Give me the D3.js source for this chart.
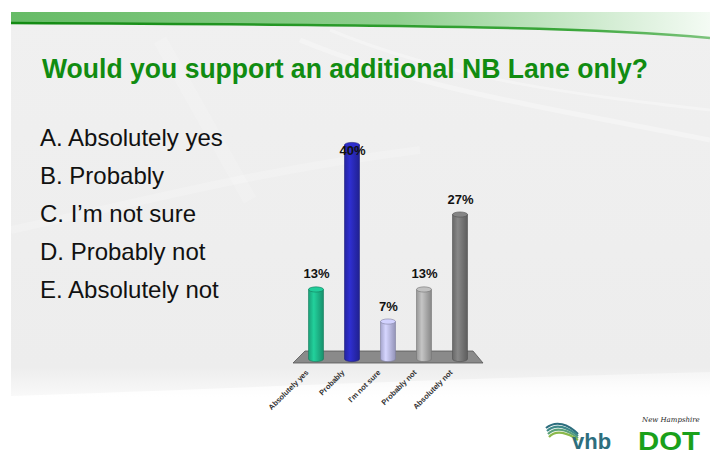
<!DOCTYPE html>
<html><head><meta charset="utf-8">
<script src="https://cdn.jsdelivr.net/npm/d3@7"></script>
<style>html,body{margin:0;padding:0;background:#fff;}svg{display:block;}</style>
</head><body>
<script>
const title = "Would you support an additional NB Lane only?";
const options = ["A. Absolutely yes","B. Probably","C. I\u2019m not sure","D. Probably not","E. Absolutely not"];
const categories = ["Absolutely yes","Probably","I'm not sure","Probably not","Absolutely not"];
const values = [13, 40, 7, 13, 27];
const valueLabels = ["13%","40%","7%","13%","27%"];
const barColors = ["#1fbf8f","#2b2bbf","#c4c4f4","#b4b4b4","#7c7c7c"];

const W = 710, H = 456;
const svg = d3.select("body").append("svg").attr("width", W).attr("height", H);
const defs = svg.append("defs");

// background gradient
const bg = defs.append("linearGradient").attr("id","bg").attr("x1",0).attr("y1",0).attr("x2",0).attr("y2",1);
bg.append("stop").attr("offset","0%").attr("stop-color","#f0f0f0");
bg.append("stop").attr("offset","80%").attr("stop-color","#ededed");
bg.append("stop").attr("offset","90%").attr("stop-color","#ffffff");
svg.append("rect").attr("x",0).attr("y",0).attr("width",W).attr("height",H).attr("fill","#fff");
svg.append("rect").attr("x",11).attr("y",12).attr("width",W-11).attr("height",H-12).attr("fill","url(#bg)");
// subtle swooshes
const sw = svg.append("g").attr("fill","none").attr("stroke","#ffffff");
sw.append("path").attr("d","M300,40 C420,90 560,110 710,140").attr("stroke-width",5).attr("stroke-opacity",0.3);
sw.append("path").attr("d","M330,30 C450,80 580,95 710,110").attr("stroke-width",3).attr("stroke-opacity",0.3);
sw.append("path").attr("d","M11,230 C150,200 260,170 420,150").attr("stroke-width",8).attr("stroke-opacity",0.18);
sw.append("path").attr("d","M160,40 L250,200").attr("stroke-width",14).attr("stroke-opacity",0.15);
// white bottom area
const wb = defs.append("linearGradient").attr("id","wb").attr("x1",0).attr("y1",0).attr("x2",0).attr("y2",1);
wb.append("stop").attr("offset","0%").attr("stop-color","#fff").attr("stop-opacity",0.4);
wb.append("stop").attr("offset","30%").attr("stop-color","#fff").attr("stop-opacity",1);
svg.append("path").attr("d","M11,396 C200,390 400,380 710,372 L710,456 L11,456 Z").attr("fill","url(#wb)");

// top green band
const gb = defs.append("linearGradient").attr("id","gb").attr("x1",0).attr("y1",0).attr("x2",1).attr("y2",0);
gb.append("stop").attr("offset","0%").attr("stop-color","#66bb66");
gb.append("stop").attr("offset","55%").attr("stop-color","#8fcf8f");
gb.append("stop").attr("offset","100%").attr("stop-color","#f4fbf4");
svg.append("path").attr("d","M11,12 L710,12 L710,38 C600,28 450,25 11,23 Z").attr("fill","url(#gb)");
const gl = defs.append("linearGradient").attr("id","gl").attr("x1",0).attr("y1",0).attr("x2",1).attr("y2",0);
gl.append("stop").attr("offset","0%").attr("stop-color","#128a12");
gl.append("stop").attr("offset","80%").attr("stop-color","#3aa63a");
gl.append("stop").attr("offset","100%").attr("stop-color","#7cc47c");
svg.append("path").attr("d","M11,23 C450,25 600,28 710,38").attr("fill","none").attr("stroke","url(#gl)").attr("stroke-width",2.5);

// title
svg.append("text").attr("x",42).attr("y",78)
  .attr("font-family","'Liberation Sans Narrow','Liberation Sans',Arial,sans-serif")
  .attr("font-weight","bold").attr("font-size",27).attr("fill","#118c11")
  .attr("textLength",606).attr("lengthAdjust","spacingAndGlyphs")
  .text(title);

// options list
svg.append("g").selectAll("text").data(options).join("text")
  .attr("x",40).attr("y",(d,i)=>146 + i*38)
  .attr("font-family","'Liberation Sans',Arial,sans-serif")
  .attr("font-size",24).attr("fill","#111")
  .text(d=>d);

// chart
const x = d3.scalePoint().domain(categories).range([298,478]).padding(0.5);
const y = d3.scaleLinear().domain([0,40]).range([359,145]);
const bw = 15, ry = 2.6;
const y0 = y(0);

// floor
const xr = x.range();
const floorPts = [[xr[0]+7, y0-8],[xr[1]-5, y0-8],[xr[1]+5, y0+4],[xr[0]-5, y0+4]];
svg.append("path").attr("d", d3.line()(floorPts)+"Z")
  .attr("fill","#8a8a8a").attr("stroke","#555").attr("stroke-width",0.8);

// gradients for cylinders
barColors.forEach((c,i)=>{
  const g = defs.append("linearGradient").attr("id","cyl"+i).attr("x1",0).attr("y1",0).attr("x2",1).attr("y2",0);
  const base = d3.color(c);
  g.append("stop").attr("offset","0%").attr("stop-color", base.darker(0.5));
  g.append("stop").attr("offset","35%").attr("stop-color", base.brighter(0.25));
  g.append("stop").attr("offset","100%").attr("stop-color", base.darker(0.8));
});

const bars = svg.append("g").selectAll("g").data(values).join("g");
bars.append("path")
  .attr("d",(d,i)=>{
    const cx = x(categories[i]), l = cx-bw/2, r = cx+bw/2, t = y(d);
    return `M${l},${t} L${l},${y0} A${bw/2},${ry} 0 0 0 ${r},${y0} L${r},${t} Z`;
  })
  .attr("fill",(d,i)=>`url(#cyl${i})`).attr("stroke",(d,i)=>d3.color(barColors[i]).darker(1.2)).attr("stroke-width",0.6);
bars.append("ellipse")
  .attr("cx",(d,i)=>x(categories[i])).attr("cy",d=>y(d))
  .attr("rx",bw/2).attr("ry",ry)
  .attr("fill",(d,i)=>d3.color(barColors[i]).brighter(0.2))
  .attr("stroke",(d,i)=>d3.color(barColors[i]).darker(1.2)).attr("stroke-width",0.6);

// value labels
const plotTop = y.range()[1] + 10;
svg.append("g").selectAll("text").data(values).join("text")
  .attr("x",(d,i)=>x(categories[i])+0.5)
  .attr("y",d=>Math.max(y(d)-11, plotTop))
  .attr("text-anchor","middle")
  .attr("font-family","'Liberation Sans',Arial,sans-serif")
  .attr("font-weight","bold").attr("font-size",13).attr("fill","#111")
  .text((d,i)=>valueLabels[i]);

// category labels
svg.append("g").selectAll("text").data(categories).join("text")
  .attr("transform",d=>`translate(${x(d)-7},${y0+14}) rotate(-45)`)
  .attr("text-anchor","end")
  .attr("font-family","'Liberation Sans',Arial,sans-serif")
  .attr("font-size",7.5).attr("font-weight","bold").attr("fill","#333")
  .text(d=>d);

// logos (approximate)
const lg = svg.append("g");
const swc = ["#2d6e7e","#3f8a8a","#5aa07a","#8ab84a"];
swc.forEach((c,i)=>{
  lg.append("path").attr("d",`M${546+i*1},${428+i*3} C${556},${420+i*3} ${568},${424+i*3} ${578},${434+i*2}`)
    .attr("fill","none").attr("stroke",c).attr("stroke-width",2.2);
});
lg.append("text").attr("x",572).attr("y",449).attr("font-family","'Liberation Sans',Arial,sans-serif")
  .attr("font-weight","bold").attr("font-size",22).attr("fill","#2d6e7e").text("vhb");
lg.append("text").attr("x",642).attr("y",422).attr("font-family","'DejaVu Serif',serif").attr("font-style","italic")
  .attr("font-size",7).attr("fill","#222").text("New Hampshire");
lg.append("text").attr("x",638).attr("y",450).attr("font-family","'Liberation Sans',Arial,sans-serif")
  .attr("font-weight","bold").attr("font-size",25).attr("fill","#1aa01a").attr("textLength",62).attr("lengthAdjust","spacingAndGlyphs").text("DOT");
</script>
</body></html>
